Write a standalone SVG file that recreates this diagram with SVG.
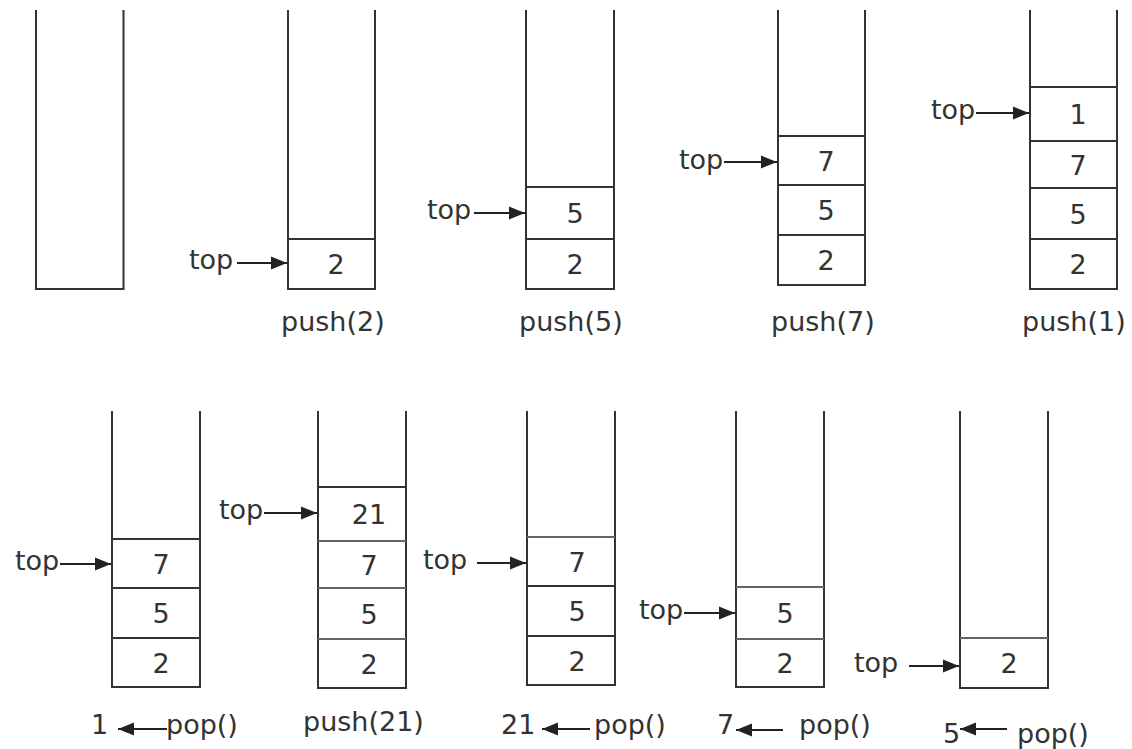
<svg xmlns="http://www.w3.org/2000/svg" width="1132" height="749" viewBox="0 0 1132 749">
  <style>
    .stack { fill: none; stroke: #333; stroke-width: 2; }
    .cell { stroke: #333; stroke-width: 2; }
    .cell.soft { stroke: #666; }
    .txt { font-family: "DejaVu Sans", "Liberation Sans", sans-serif; font-size: 27px; fill: #333; }
    .val { text-anchor: middle; }
    .ptr { fill: none; stroke: #222; stroke-width: 2; marker-end: url(#head); }
  </style>
  <defs>
    <marker id="head" markerUnits="userSpaceOnUse" markerWidth="17" markerHeight="14" refX="16" refY="7" orient="auto">
      <path d="M0,0.5 L16,7 L0,13.5 z" fill="#222"/>
    </marker>
  </defs>

  <rect width="1132" height="749" fill="#fff"/>

  <!-- top row: empty stack, then pushes -->
  <g id="stack-empty">
    <path class="stack" d="M36,10 V289 H123.5 V10"/>
  </g>

  <g id="stack-push2">
    <path class="stack" d="M288,10 V289 H375 V10"/>
    <line class="cell" x1="288" y1="239" x2="375" y2="239"/>
    <text class="txt val" x="336" y="274">2</text>
    <text class="txt" x="189" y="269">top</text>
    <text class="txt" x="281" y="331">push(2)</text>
  </g>

  <g id="stack-push5">
    <path class="stack" d="M526,10 V289 H614 V10"/>
    <line class="cell" x1="526" y1="187" x2="614" y2="187"/>
    <line class="cell" x1="526" y1="239" x2="614" y2="239"/>
    <text class="txt val" x="575" y="223">5</text>
    <text class="txt val" x="575" y="274">2</text>
    <text class="txt" x="427" y="219">top</text>
    <text class="txt" x="519" y="331">push(5)</text>
  </g>

  <g id="stack-push7">
    <path class="stack" d="M778,10 V285 H865 V10"/>
    <line class="cell" x1="778" y1="136" x2="865" y2="136"/>
    <line class="cell" x1="778" y1="185" x2="865" y2="185"/>
    <line class="cell" x1="778" y1="235" x2="865" y2="235"/>
    <text class="txt val" x="826" y="171">7</text>
    <text class="txt val" x="826" y="220">5</text>
    <text class="txt val" x="826" y="270">2</text>
    <text class="txt" x="679" y="169">top</text>
    <text class="txt" x="771" y="331">push(7)</text>
  </g>

  <g id="stack-push1">
    <path class="stack" d="M1030,10 V289 H1117 V10"/>
    <line class="cell" x1="1030" y1="87" x2="1117" y2="87"/>
    <line class="cell" x1="1030" y1="141" x2="1117" y2="141"/>
    <line class="cell" x1="1030" y1="188" x2="1117" y2="188"/>
    <line class="cell" x1="1030" y1="239" x2="1117" y2="239"/>
    <text class="txt val" x="1078" y="124">1</text>
    <text class="txt val" x="1078" y="175">7</text>
    <text class="txt val" x="1078" y="224">5</text>
    <text class="txt val" x="1078" y="274">2</text>
    <text class="txt" x="931" y="119">top</text>
    <text class="txt" x="1022" y="331">push(1)</text>
  </g>

  <!-- bottom row: pop / push sequence -->
  <g id="stack-pop1">
    <path class="stack" d="M112,411 V687 H200 V411"/>
    <line class="cell" x1="112" y1="539" x2="200" y2="539"/>
    <line class="cell" x1="112" y1="588" x2="200" y2="588"/>
    <line class="cell" x1="112" y1="638" x2="200" y2="638"/>
    <text class="txt val" x="161" y="574">7</text>
    <text class="txt val" x="161" y="623">5</text>
    <text class="txt val" x="161" y="673">2</text>
    <text class="txt" x="15" y="570">top</text>
    <text class="txt" x="91" y="734">1</text>
    <text class="txt" x="166" y="734">pop()</text>
  </g>

  <g id="stack-push21">
    <path class="stack" d="M318,411 V688 H406 V411"/>
    <line class="cell" x1="318" y1="487" x2="406" y2="487"/>
    <line class="cell soft" x1="318" y1="541" x2="406" y2="541"/>
    <line class="cell soft" x1="318" y1="588" x2="406" y2="588"/>
    <line class="cell soft" x1="318" y1="639" x2="406" y2="639"/>
    <text class="txt val" x="369" y="524">21</text>
    <text class="txt val" x="369" y="575">7</text>
    <text class="txt val" x="369" y="624">5</text>
    <text class="txt val" x="369" y="674">2</text>
    <text class="txt" x="219" y="519">top</text>
    <text class="txt" x="303" y="731">push(21)</text>
  </g>

  <g id="stack-pop21">
    <path class="stack" d="M527,411 V685 H615 V411"/>
    <line class="cell soft" x1="527" y1="537" x2="615" y2="537"/>
    <line class="cell" x1="527" y1="586" x2="615" y2="586"/>
    <line class="cell" x1="527" y1="636" x2="615" y2="636"/>
    <text class="txt val" x="577" y="572">7</text>
    <text class="txt val" x="577" y="621">5</text>
    <text class="txt val" x="577" y="671">2</text>
    <text class="txt" x="423" y="569">top</text>
    <text class="txt" x="501" y="734">21</text>
    <text class="txt" x="594" y="734">pop()</text>
  </g>

  <g id="stack-pop7">
    <path class="stack" d="M736,411 V687 H824 V411"/>
    <line class="cell soft" x1="736" y1="587" x2="824" y2="587"/>
    <line class="cell soft" x1="736" y1="639" x2="824" y2="639"/>
    <text class="txt val" x="785" y="623">5</text>
    <text class="txt val" x="785" y="673">2</text>
    <text class="txt" x="639" y="619">top</text>
    <text class="txt" x="717" y="734">7</text>
    <text class="txt" x="799" y="734">pop()</text>
  </g>

  <g id="stack-pop5">
    <path class="stack" d="M960,411 V688 H1048 V411"/>
    <line class="cell soft" x1="960" y1="638" x2="1048" y2="638"/>
    <text class="txt val" x="1009" y="673">2</text>
    <text class="txt" x="854" y="672">top</text>
    <text class="txt" x="943" y="743">5</text>
    <text class="txt" x="1017" y="743">pop()</text>
  </g>

  <!-- pointer arrows -->
  <g id="connectors">
    <line class="ptr" x1="237" y1="263" x2="287" y2="263"/>
    <line class="ptr" x1="474" y1="213" x2="525" y2="213"/>
    <line class="ptr" x1="724" y1="162" x2="777" y2="162"/>
    <line class="ptr" x1="976" y1="113" x2="1029" y2="113"/>
    <line class="ptr" x1="60" y1="564" x2="111" y2="564"/>
    <line class="ptr" x1="264" y1="513" x2="317" y2="513"/>
    <line class="ptr" x1="477" y1="563" x2="526" y2="563"/>
    <line class="ptr" x1="684" y1="613" x2="735" y2="613"/>
    <line class="ptr" x1="909" y1="666" x2="959" y2="666"/>
    <line class="ptr" x1="167" y1="729" x2="118" y2="729"/>
    <line class="ptr" x1="590" y1="729" x2="542" y2="729"/>
    <line class="ptr" x1="783" y1="730" x2="736" y2="730"/>
    <line class="ptr" x1="1007" y1="729" x2="960" y2="729"/>
  </g>
</svg>
